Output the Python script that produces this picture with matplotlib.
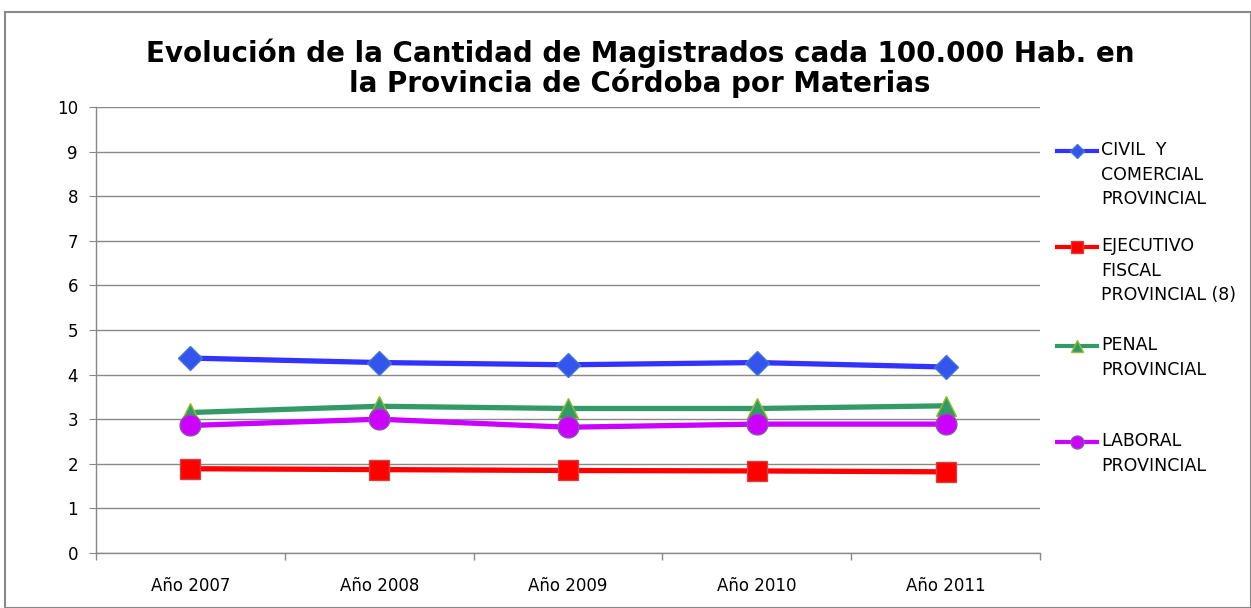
import matplotlib
matplotlib.use('Agg')
from matplotlib import pyplot as plt
from matplotlib.lines import Line2D
from matplotlib.patches import Rectangle

years = ['Año 2007', 'Año 2008', 'Año 2009', 'Año 2010', 'Año 2011']
civil = [4.37, 4.27, 4.22, 4.27, 4.17]
ejecutivo = [1.89, 1.87, 1.85, 1.84, 1.82]
penal = [3.15, 3.29, 3.24, 3.24, 3.30]
laboral = [2.86, 3.00, 2.82, 2.89, 2.89]

labels = ['CIVIL  Y\nCOMERCIAL\nPROVINCIAL',
          'EJECUTIVO\nFISCAL\nPROVINCIAL (8)',
          'PENAL\nPROVINCIAL',
          'LABORAL\nPROVINCIAL']

title = ('Evolución de la Cantidad de Magistrados cada 100.000 Hab. en\n'
         'la Provincia de Córdoba por Materias')

plt.rcParams['font.family'] = 'DejaVu Sans'

W, H = 1251, 608
fig = plt.figure(figsize=(W / 100, H / 100), dpi=100)
ax = fig.add_axes([96 / W, 1 - 553 / H, (1040 - 96) / W, (553 - 107) / H])

# chart border
fig.patches.append(Rectangle((5 / W, 0), 1 - 5 / W, 1 - 12 / H,
                             transform=fig.transFigure, fill=False,
                             edgecolor='#888888', linewidth=1.5))

x = range(len(years))
styles = [
    (civil, dict(color='#3333FF', marker='D', markersize=12,
                 markerfacecolor='#3355EE', markeredgecolor='#4477CC')),
    (ejecutivo, dict(color='#FF0000', marker='s', markersize=14,
                     markerfacecolor='#FF0000', markeredgecolor='#CC4444')),
    (penal, dict(color='#339966', marker='^', markersize=15,
                 markerfacecolor='#339966', markeredgecolor='#99BB33')),
    (laboral, dict(color='#CC00FF', marker='o', markersize=15,
                   markerfacecolor='#CC00FF', markeredgecolor='#8855AA')),
]
for vals, st in styles:
    ax.plot(x, vals, linewidth=3.8, zorder=3, **st)

ax.set_xlim(-0.5, len(years) - 0.5)
ax.set_ylim(0, 10)
ax.set_yticks(range(0, 11))
ax.set_xticks(list(x))
ax.set_xticklabels(years)
ax.set_xticks([i - 0.5 for i in range(len(years) + 1)], minor=True)
ax.tick_params(axis='x', which='major', length=0, labelsize=12, pad=17)
ax.tick_params(axis='x', which='minor', length=5, color='#888888', width=1)
ax.tick_params(axis='y', length=5, color='#888888', labelsize=12, pad=8)
ax.grid(axis='y', color='#888888', linewidth=1)
ax.set_axisbelow(True)
for side in ['top', 'right']:
    ax.spines[side].set_visible(False)
for side in ['left', 'bottom']:
    ax.spines[side].set_color('#888888')
    ax.spines[side].set_linewidth(1)

fig.text(640 / W, 1 - 68 / H, title, ha='center', va='center',
         fontsize=20, fontweight='bold', linespacing=1.0)

# legend drawn by hand: handle sits on the first text line
legend_y = [151, 247, 346, 442]
for (vals, st), lab, ly in zip(styles, labels, legend_y):
    yf = 1 - ly / H
    fig.add_artist(Line2D([1057 / W, 1097 / W], [yf, yf], linewidth=3,
                          color=st['color'], transform=fig.transFigure))
    fig.add_artist(Line2D([1077 / W], [yf], linestyle='none',
                          marker=st['marker'],
                          markersize=st['markersize'] * 0.62,
                          markerfacecolor=st['markerfacecolor'],
                          markeredgecolor=st['markeredgecolor'],
                          transform=fig.transFigure))
    fig.text(1101 / W, 1 - (ly - 10) / H, lab, ha='left', va='top',
             fontsize=12.5, linespacing=1.48)

fig.savefig('out.png', dpi=100)
